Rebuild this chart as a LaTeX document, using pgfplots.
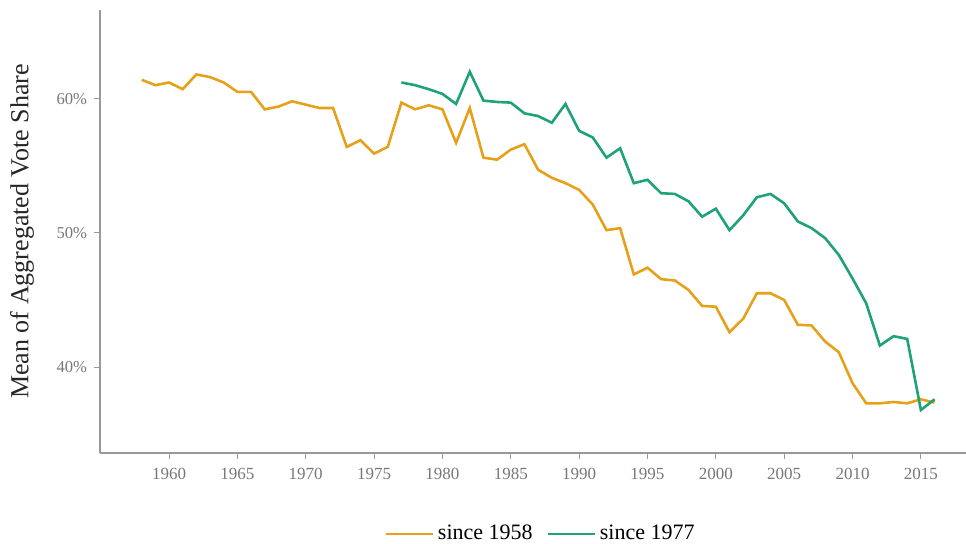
\documentclass[border=0pt]{standalone}
\usepackage{pgfplots}
\pgfplotsset{compat=1.18}
\usepackage{fontspec}
\setmainfont{Liberation Serif}
\definecolor{c58}{HTML}{E6A11A}
\definecolor{c77}{HTML}{1FA27B}
\definecolor{axgray}{HTML}{999999}
\definecolor{lblgray}{HTML}{777777}

\begin{document}
\begin{tikzpicture}
% bounding box: 1px = 0.5pt, axis lower-left at (0,0)
\useasboundingbox (-50pt,-45.5pt) rectangle (433pt,226.5pt);
\begin{axis}[
    scale only axis,
    width=433pt,
    height=221.5pt,
    xmin=1954.95, xmax=2018.3,
    ymin=33.6, ymax=66.6,
    axis x line*=bottom,
    axis y line*=left,
    axis line style={axgray, line width=0.8pt},
    tick align=outside,
    major tick length=3pt,
    tick style={axgray, line width=0.5pt},
    xtick={1960,1965,...,2015},
    ytick={40,50,60},
    yticklabels={40\%,50\%,60\%},
    x tick label style={/pgf/number format/1000 sep={}, font=\fontsize{8.5}{10}\selectfont, text=lblgray, yshift=-1pt},
    y tick label style={font=\fontsize{8.3}{10}\selectfont, text=lblgray},
    /pgf/number format/assume math mode=true,
    ylabel={Mean of Aggregated Vote Share},
    ylabel style={at={(axis description cs:0,0.5)}, anchor=center, yshift=39pt, font=\fontsize{13}{15}\selectfont, text=black!85},
    legend style={draw=none, at={(axis description cs:0.51,0)}, anchor=center, yshift=-40.5pt, font=\fontsize{11}{13}\selectfont, /tikz/every even column/.append style={column sep=5pt}},
    legend columns=2,
    legend image code/.code={\draw[#1, line width=1.3pt] (0cm,0cm) -- (0.82cm,0cm);},
    clip=false,
]
\addplot[c58, line width=1.3pt] coordinates {
(1958,61.4) (1959,61.0) (1960,61.2) (1961,60.7) (1962,61.8) (1963,61.6) (1964,61.2)
(1965,60.5) (1966,60.5) (1967,59.2) (1968,59.4) (1969,59.8) (1970,59.55) (1971,59.3)
(1972,59.3) (1973,56.4) (1974,56.9) (1975,55.9) (1976,56.4) (1977,59.7) (1978,59.2)
(1979,59.5) (1980,59.2) (1981,56.7) (1982,59.3) (1983,55.6) (1984,55.45) (1985,56.2)
(1986,56.6) (1987,54.7) (1988,54.1) (1989,53.7) (1990,53.2) (1991,52.1) (1992,50.2)
(1993,50.35) (1994,46.9) (1995,47.4) (1996,46.55) (1997,46.45) (1998,45.75) (1999,44.55)
(2000,44.5) (2001,42.6) (2002,43.6) (2003,45.5) (2004,45.5) (2005,45.0) (2006,43.15)
(2007,43.1) (2008,41.9) (2009,41.1) (2010,38.8) (2011,37.3) (2012,37.3) (2013,37.4)
(2014,37.3) (2015,37.6) (2016,37.35)
};
\addplot[c77, line width=1.3pt] coordinates {
(1977,61.2) (1978,61.0) (1979,60.7) (1980,60.35) (1981,59.6) (1982,62.0) (1983,59.85)
(1984,59.75) (1985,59.7) (1986,58.9) (1987,58.7) (1988,58.2) (1989,59.6) (1990,57.6)
(1991,57.1) (1992,55.6) (1993,56.3) (1994,53.7) (1995,53.95) (1996,52.95) (1997,52.9)
(1998,52.35) (1999,51.2) (2000,51.8) (2001,50.2) (2002,51.3) (2003,52.65) (2004,52.9)
(2005,52.2) (2006,50.85) (2007,50.35) (2008,49.6) (2009,48.35) (2010,46.6) (2011,44.75)
(2012,41.6) (2013,42.3) (2014,42.1) (2015,36.8) (2016,37.6)
};
\legend{since 1958, since 1977}
\end{axis}
\end{tikzpicture}
\end{document}
